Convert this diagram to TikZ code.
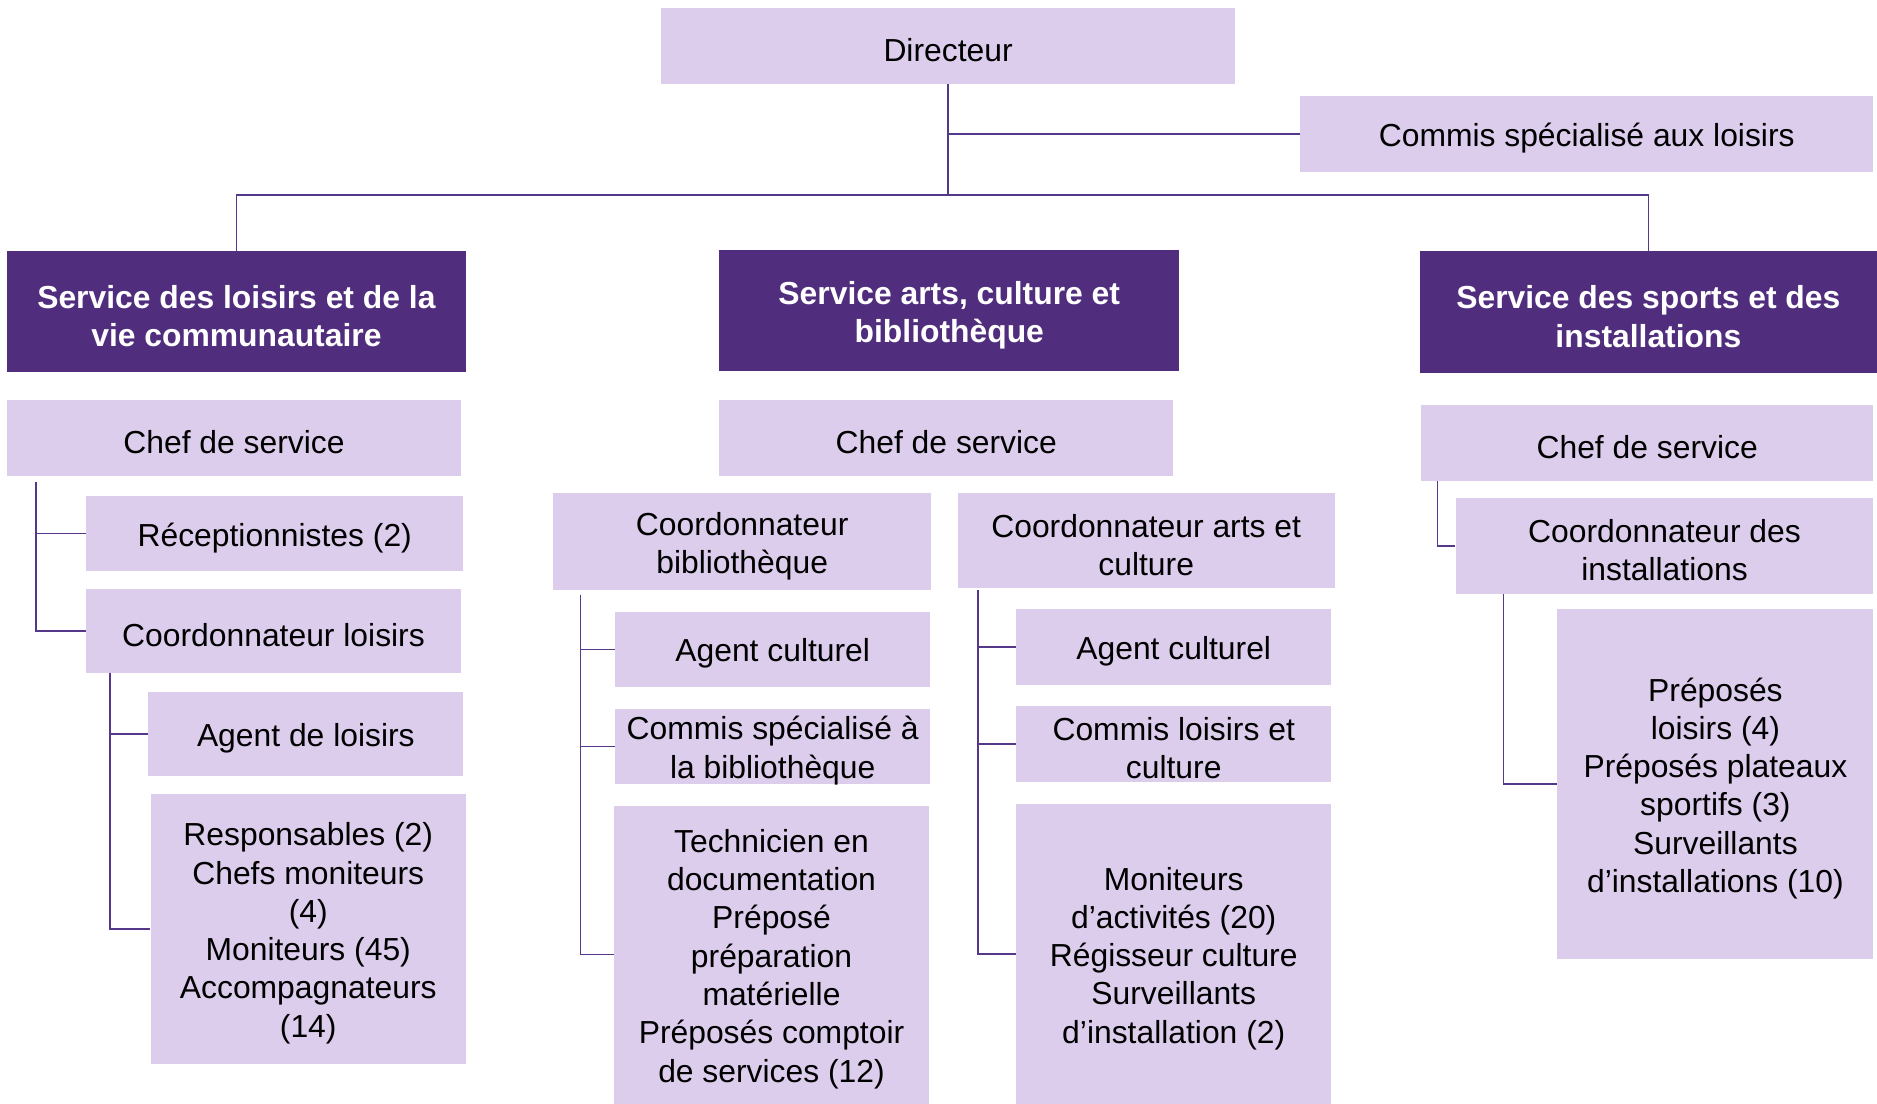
\documentclass[tikz,border=0pt]{standalone}
\usepackage{fontspec}
\setmainfont{Liberation Sans}
\definecolor{lav}{HTML}{DCCDEC}
\definecolor{hdr}{HTML}{512E7D}
\definecolor{ln}{HTML}{553889}
\newcommand\bx[7]{%
  \node[#1, minimum width={(#5-#3)*0.5pt}, minimum height={(#6-#4)*0.5pt}]
    (#2) at ({(#3+#5)/2},{(#4+#6)/2}) {};
  \node[#1 text] (#2t) at ([yshift=-1.8pt]#2.center) {#7};}
\begin{document}
\begin{tikzpicture}[x=0.5pt,y=-0.5pt,
  lbox/.style={fill=lav, draw=none, inner sep=0pt},
  hbox/.style={fill=hdr, draw=none, inner sep=0pt},
  lbox text/.style={inner sep=0pt, align=center,
    font=\fontsize{13.3}{16}\selectfont, text=black},
  hbox text/.style={inner sep=0pt, align=center,
    font=\fontsize{13.3}{16}\selectfont\bfseries, text=white},
  conn/.style={draw=ln, line width=0.65pt}]
\useasboundingbox (0,0) rectangle (1568,922);
\bx{lbox}{dir}{552}{7}{1032}{70}{Directeur}
\bx{lbox}{com}{1086}{80}{1565}{144}{Commis spécialisé aux loisirs}
\bx{hbox}{hA}{6}{210}{389}{311}{Service des loisirs et de la\\vie communautaire}
\bx{hbox}{hB}{601}{209}{985}{310}{Service arts, culture et\\bibliothèque}
\bx{hbox}{hC}{1186}{210}{1568}{312}{Service des sports et des\\installations}
% left column
\bx{lbox}{cA}{6}{334}{385}{398}{Chef de service}
\bx{lbox}{recA}{72}{414}{387}{477}{Réceptionnistes (2)}
\bx{lbox}{coA}{72}{492}{385}{562}{Coordonnateur loisirs}
\bx{lbox}{agA}{124}{578}{387}{648}{Agent de loisirs}
\bx{lbox}{reA}{126}{663}{389}{889}{Responsables (2)\\Chefs moniteurs\\(4)\\Moniteurs (45)\\Accompagnateurs\\(14)}
% middle column
\bx{lbox}{cB}{601}{334}{980}{398}{Chef de service}
\bx{lbox}{cbB}{462}{412}{778}{493}{Coordonnateur\\bibliothèque}
\bx{lbox}{caB}{800}{412}{1115}{491}{Coordonnateur arts et\\culture}
\bx{lbox}{ag1}{514}{511}{777}{574}{Agent culturel}
\bx{lbox}{cm1}{514}{592}{777}{655}{Commis spécialisé à\\la bibliothèque}
\bx{lbox}{te1}{513}{673}{776}{922}{Technicien en\\documentation\\Préposé\\préparation\\matérielle\\Préposés comptoir\\de services (12)}
\bx{lbox}{ag2}{849}{509}{1112}{572}{Agent culturel}
\bx{lbox}{cm2}{849}{590}{1112}{653}{Commis loisirs et\\culture}
\bx{lbox}{mo2}{849}{672}{1112}{922}{Moniteurs\\d’activités (20)\\Régisseur culture\\Surveillants\\d’installation (2)}
% right column
\bx{lbox}{cC}{1187}{338}{1565}{402}{Chef de service}
\bx{lbox}{ciC}{1216}{416}{1565}{496}{Coordonnateur des\\installations}
\bx{lbox}{prC}{1301}{509}{1565}{801}{Préposés\\loisirs (4)\\Préposés plateaux\\sportifs (3)\\Surveillants\\d’installations (10)}
% connectors
\coordinate (bus) at (792,163);
\draw[conn] (dir.south) -- (bus);
\draw[conn] (dir.south |- com.west) -- (com.west);
\draw[conn] (hA.north) |- (bus) -| (hC.north);
\coordinate (lA) at (30,403);
\draw[conn] (lA) |- (recA.west);
\draw[conn] (lA) |- (coA.west);
\coordinate (lA2) at (92,562);
\draw[conn] (lA2) |- (agA.west);
\draw[conn] (lA2) |- (reA.west);
\coordinate (lB) at (485,497);
\draw[conn] (lB) |- (ag1.west);
\draw[conn] (lB) |- (cm1.west);
\draw[conn] (lB) |- (te1.west);
\coordinate (lB2) at (817,493);
\draw[conn] (lB2) |- (ag2.west);
\draw[conn] (lB2) |- (cm2.west);
\draw[conn] (lB2) |- (mo2.west);
\coordinate (lC) at (1201,402);
\draw[conn] (lC) |- (ciC.west);
\coordinate (lC2) at (1256,496);
\draw[conn] (lC2) |- (prC.west);
\end{tikzpicture}
\end{document}
